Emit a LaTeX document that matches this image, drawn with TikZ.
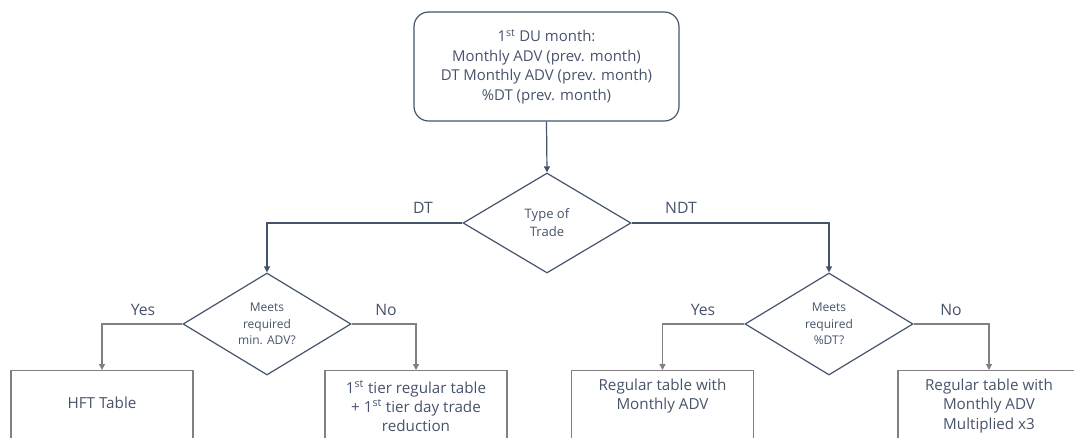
\documentclass[tikz,border=0pt]{standalone}
\usepackage{fontspec}
\setmainfont{Open Sans}
\usetikzlibrary{shapes.geometric,arrows.meta}
\definecolor{slate}{HTML}{44546A}
\definecolor{gline}{HTML}{808080}
\definecolor{txt}{HTML}{46536A}
\tikzset{
  startbox/.style={draw=slate, line width=0.9pt, rounded corners=11pt, minimum width=198.75pt, minimum height=81.75pt, align=center, text=txt, font=\fontsize{11.2}{14.6}\selectfont},
  decision/.style={diamond, draw=slate, line width=0.9pt, inner sep=0pt, minimum width=126pt, minimum height=76.5pt, align=center, text=txt},
  endbox/.style={draw=gline, line width=0.9pt, minimum width=136.5pt, minimum height=75pt, anchor=north},
  boxtext/.style={align=center, text=txt, font=\fontsize{11.4}{14.3}\selectfont},
  lbl/.style={text=txt, font=\fontsize{11.8}{12}\selectfont, inner sep=0pt},
  conn/.style={draw=slate, line width=0.9pt, -{Triangle[length=4.5pt,width=4.5pt]}},
  gconn/.style={draw=gline, line width=0.9pt, -{Triangle[length=4.5pt,width=4.5pt]}},
}
\begin{document}
\begin{tikzpicture}[x=0.75pt,y=-0.75pt]
\useasboundingbox (0,0) rectangle (1074,437);
\clip (0,0) rectangle (1074,437);
\node[startbox] (start) at (546.5,66.5) {1\textsuperscript{st} DU month:\\Monthly ADV (prev. month)\\DT Monthly ADV (prev. month)\\\%DT (prev. month)};
\node[decision, font=\fontsize{9.8}{13.5}\selectfont, minimum height=75pt] (d1) at (547,223) {Type of\\Trade};
\node[decision, font=\fontsize{9}{12.5}\selectfont] (d2) at (267,324) {Meets\\required\\min. ADV?};
\node[decision, font=\fontsize{9}{12.5}\selectfont] (d3) at (829,324) {Meets\\required\\\%DT?};
\node[endbox] (b1) at (102,370) {};
\node[endbox] (b2) at (416,370) {};
\node[endbox] (b3) at (662.5,370) {};
\node[endbox] (b4) at (989,370) {};
\node[boxtext] (t1) at (102,403) {HFT Table};
\node[boxtext] (t2) at (416,406) {1\textsuperscript{st} tier regular table\\+ 1\textsuperscript{st} tier day trade\\reduction};
\node[boxtext] (t3) at (662.5,396) {Regular table with\\Monthly ADV};
\node[boxtext] (t4) at (989,406) {Regular table with\\Monthly ADV\\Multiplied x3};
\draw[conn] (start.south) -- (d1.north);
\draw[conn] (d1.west) -| (d2.north);
\draw[conn] (d1.east) -| (d3.north);
\draw[gconn] (d2.west) -| (b1.north);
\draw[gconn] (d2.east) -| (b2.north);
\draw[gconn] (d3.west) -| (b3.north);
\draw[gconn] (d3.east) -| (b4.north);
\node[lbl] (ldt) at (423,208) {DT};
\node[lbl] (lndt) at (681,208) {NDT};
\node[lbl] (ly1) at (143,310) {Yes};
\node[lbl] (ln1) at (386,310) {No};
\node[lbl] (ly2) at (703,310) {Yes};
\node[lbl] (ln2) at (951,310) {No};
\end{tikzpicture}
\end{document}
